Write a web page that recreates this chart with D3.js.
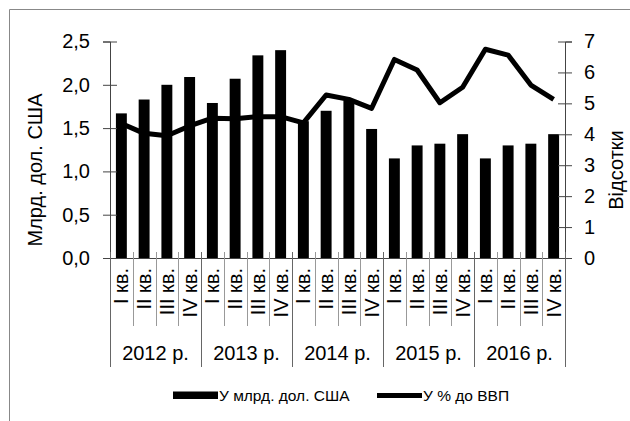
<!DOCTYPE html>
<html>
<head>
<meta charset="utf-8">
<script src="https://cdn.jsdelivr.net/npm/d3@7"></script>
<style>
  body { margin: 0; background: #fff; }
  text { font-family: "Liberation Sans", Arial, sans-serif; fill: #000; }
</style>
</head>
<body>
<div id="chart"></div>
<script>
const years = ["2012 р.", "2013 р.", "2014 р.", "2015 р.", "2016 р."];
const quarters = ["I кв.", "II кв.", "III кв.", "IV кв."];
// У млрд. дол. США
const usdValues = [1.67, 1.83, 2.00, 2.09, 1.79, 2.07, 2.34, 2.40, 1.58, 1.70,
                   1.82, 1.49, 1.15, 1.30, 1.32, 1.43, 1.15, 1.30, 1.32, 1.43];
// У % до ВВП
const pctValues = [4.35, 4.03, 3.95, 4.27, 4.52, 4.50, 4.57, 4.57, 4.37, 5.27,
                   5.13, 4.84, 6.42, 6.08, 5.02, 5.52, 6.75, 6.56, 5.59, 5.13];
const leftTicks = [0, 0.5, 1, 1.5, 2, 2.5];
const rightTicks = [0, 1, 2, 3, 4, 5, 6, 7];

const width = 630, height = 421;
const x0 = 110, x1 = 565, yTop = 41.5, yBase = 258;

const cats = [];
years.forEach(y => quarters.forEach(q => cats.push({ year: y, q: q, key: y + q })));
cats.forEach((c, i) => { c.usd = usdValues[i]; c.pct = pctValues[i]; });

const svg = d3.select('#chart')
    .append('svg')
    .attr('width', width)
    .attr('height', height);

// outer frame (only top and left edges visible)
svg.append('path')
    .attr('d', `M9.5,${height} V9.5 H${width}`)
    .attr('fill', 'none')
    .attr('stroke', '#888')
    .attr('stroke-width', 1);

const x = d3.scaleBand()
    .domain(cats.map(d => d.key))
    .range([x0, x1])
    .paddingInner(0.52)
    .paddingOuter(0.26);
const step = x.step();

const yL = d3.scaleLinear().domain([0, 2.5]).range([yBase, yTop]);
const yR = d3.scaleLinear().domain([0, 7]).range([yBase, yTop]);

// bars
svg.append('g')
    .selectAll('rect')
    .data(cats)
    .join('rect')
    .attr('x', d => x(d.key))
    .attr('y', d => yL(d.usd))
    .attr('width', x.bandwidth())
    .attr('height', d => yBase - yL(d.usd))
    .attr('fill', '#000');

// left axis
const fmt = d => d3.format('.1f')(d).replace('.', ',');
const gL = svg.append('g')
    .attr('transform', `translate(${x0},0)`)
    .call(d3.axisLeft(yL).tickValues(leftTicks).tickFormat(fmt).tickSize(7).tickPadding(13));
gL.selectAll('.tick line').attr('x1', 7).attr('stroke', '#444');
gL.select('.domain').attr('stroke', '#444');
gL.selectAll('text').style('font-size', '20px').style('font-family', '"Liberation Sans", Arial, sans-serif');

// right axis
const gR = svg.append('g')
    .attr('transform', `translate(${x1},0)`)
    .call(d3.axisRight(yR).tickValues(rightTicks).tickFormat(d3.format('d')).tickSize(7).tickPadding(12));
gR.selectAll('.tick line').attr('x1', -7).attr('stroke', '#444');
gR.select('.domain').attr('stroke', '#444');
gR.selectAll('text').style('font-size', '20px').style('font-family', '"Liberation Sans", Arial, sans-serif');

// category axis
svg.append('line')
    .attr('x1', x0).attr('x2', x1)
    .attr('y1', yBase + 0.5).attr('y2', yBase + 0.5)
    .attr('stroke', '#444');

const bounds = d3.range(cats.length + 1);
svg.append('g')
    .selectAll('line')
    .data(bounds)
    .join('line')
    .attr('x1', i => Math.round(x0 + i * step) + 0.5)
    .attr('x2', i => Math.round(x0 + i * step) + 0.5)
    .attr('y1', yBase - 6)
    .attr('y2', i => (i % 4 === 0 ? 367 : 326))
    .attr('stroke', i => (i % 4 === 0 ? '#666' : '#999'));

svg.append('g')
    .selectAll('text')
    .data(cats)
    .join('text')
    .attr('transform', d => `translate(${x(d.key) + x.bandwidth() / 2 + 7},268) rotate(-90)`)
    .attr('text-anchor', 'end')
    .style('font-size', '20px')
    .text(d => d.q);

svg.append('g')
    .selectAll('text')
    .data(years)
    .join('text')
    .attr('x', (d, i) => x0 + (i * 4 + 2) * step)
    .attr('y', 360)
    .attr('text-anchor', 'middle')
    .style('font-size', '20px')
    .text(d => d);

// line series
const line = d3.line()
    .x(d => x(d.key) + x.bandwidth() / 2)
    .y(d => yR(d.pct));
svg.append('path')
    .datum(cats)
    .attr('d', line)
    .attr('fill', 'none')
    .attr('stroke', '#000')
    .attr('stroke-width', 5)
    .attr('stroke-linejoin', 'round');

// axis titles
svg.append('text')
    .attr('transform', 'translate(42,170) rotate(-90)')
    .attr('text-anchor', 'middle')
    .style('font-size', '20px')
    .text('Млрд. дол. США');
svg.append('text')
    .attr('transform', 'translate(623,170) rotate(-90)')
    .attr('text-anchor', 'middle')
    .style('font-size', '20px')
    .text('Відсотки');

// legend
const legend = svg.append('g');
legend.append('rect')
    .attr('x', 173).attr('y', 391.5)
    .attr('width', 45).attr('height', 7.5)
    .attr('fill', '#000');
legend.append('text')
    .attr('x', 219).attr('y', 400.5)
    .style('font-size', '15.5px')
    .text('У млрд. дол. США');
legend.append('line')
    .attr('x1', 377).attr('x2', 422)
    .attr('y1', 395.5).attr('y2', 395.5)
    .attr('stroke', '#000')
    .attr('stroke-width', 5);
legend.append('text')
    .attr('x', 423).attr('y', 400.5)
    .style('font-size', '15.5px')
    .text('У % до ВВП');
</script>
</body>
</html>
